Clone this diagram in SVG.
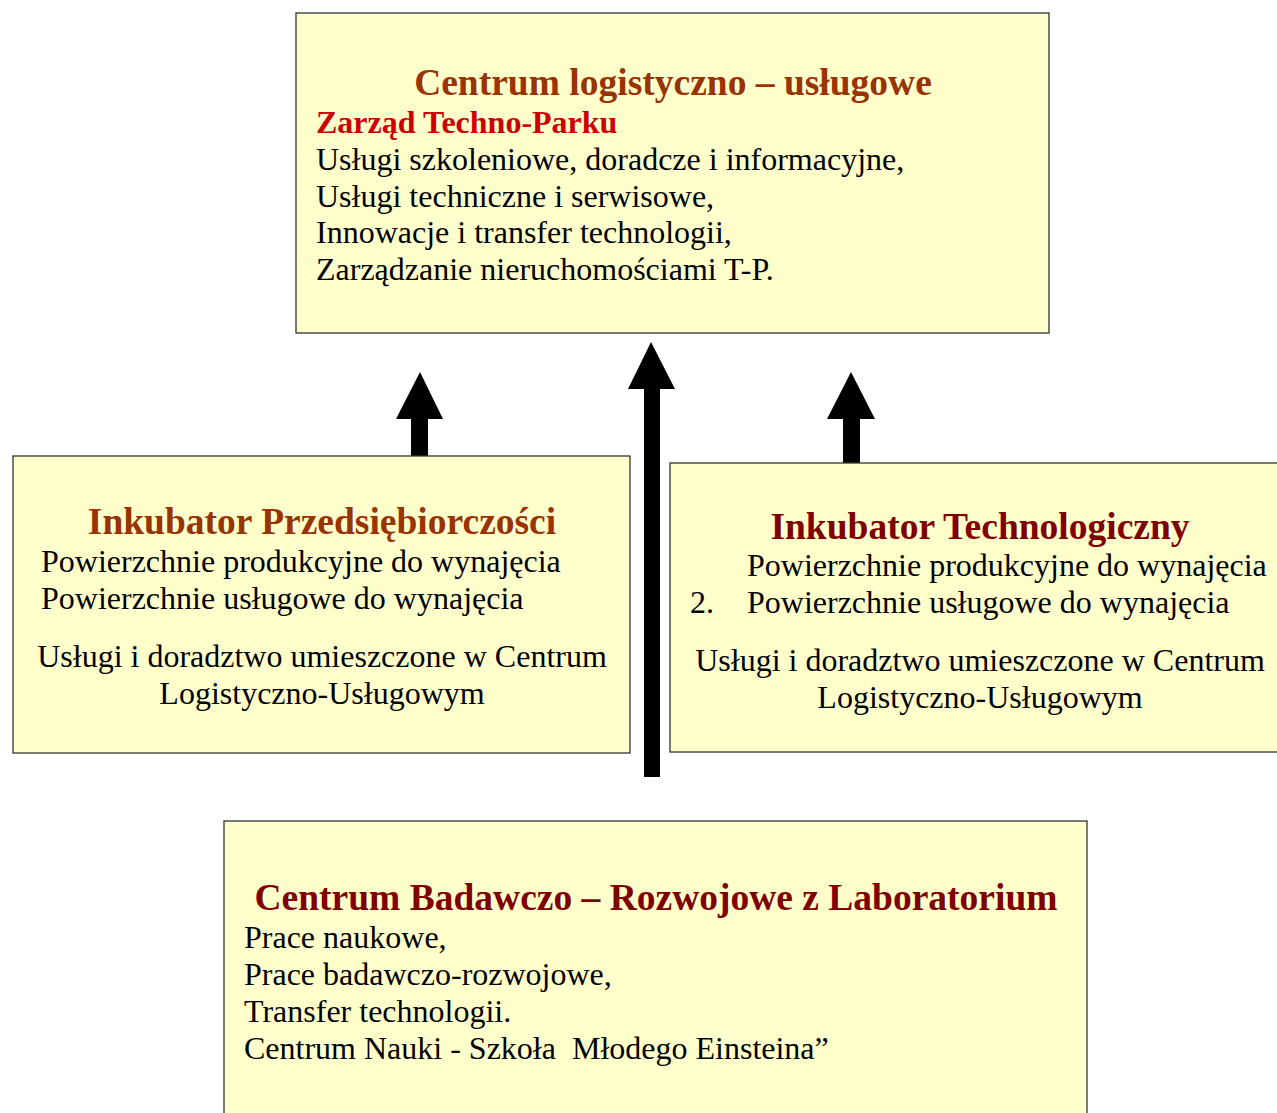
<svg xmlns="http://www.w3.org/2000/svg" width="1277" height="1113" viewBox="0 0 1277 1113">
<style>
.box{fill:#FFFFCC;stroke:#333333;stroke-width:1.3}
text{font-family:"Liberation Serif","Times New Roman",serif;font-size:32px;fill:#000}
.t{font-weight:bold;font-size:37.5px}
.brown{fill:#993300}
.dred{fill:#800000}
.red{fill:#CC0000;font-weight:bold;font-size:32px}
.c{text-anchor:middle}
.arrow{fill:#000}
</style>
<rect width="1277" height="1113" fill="#fff"/>
<g id="connectors">
<polygon class="arrow" points="420,372 443,419 428,419 428,456 411,456 411,419 396,419"/>
<polygon class="arrow" points="651,342 675,389 660,389 660,777 644,777 644,389 628,389"/>
<polygon class="arrow" points="851,372 875,419 860,419 860,463 843,463 843,419 827,419"/>
</g>
<g id="centrum-logistyczno">
<rect class="box" x="296" y="13" width="753" height="320"/>
<text class="t brown c" x="673" y="95">Centrum logistyczno – usługowe</text>
<text class="red" x="316" y="133">Zarząd Techno-Parku</text>
<text x="316" y="170">Usługi szkoleniowe, doradcze i informacyjne,</text>
<text x="316" y="207">Usługi techniczne i serwisowe,</text>
<text x="316" y="243">Innowacje i transfer technologii,</text>
<text x="316" y="280">Zarządzanie nieruchomościami T-P.</text>
</g>
<g id="inkubator-przedsiebiorczosci">
<rect class="box" x="13" y="456" width="617" height="297"/>
<text class="t brown c" x="322" y="534">Inkubator Przedsiębiorczości</text>
<text x="41" y="572">Powierzchnie produkcyjne do wynajęcia</text>
<text x="41" y="609">Powierzchnie usługowe do wynajęcia</text>
<text class="c" x="322" y="667">Usługi i doradztwo umieszczone w Centrum</text>
<text class="c" x="322" y="704">Logistyczno-Usługowym</text>
</g>
<g id="inkubator-technologiczny">
<rect class="box" x="670" y="463" width="612" height="289"/>
<text class="t dred c" x="980" y="539">Inkubator Technologiczny</text>
<text x="747" y="576">Powierzchnie produkcyjne do wynajęcia</text>
<text x="690" y="613">2.</text>
<text x="747" y="613">Powierzchnie usługowe do wynajęcia</text>
<text class="c" x="980" y="671">Usługi i doradztwo umieszczone w Centrum</text>
<text class="c" x="980" y="708">Logistyczno-Usługowym</text>
</g>
<g id="centrum-badawczo-rozwojowe">
<rect class="box" x="224" y="821" width="863" height="300"/>
<text class="t dred c" x="656" y="910">Centrum Badawczo – Rozwojowe z Laboratorium</text>
<text x="244" y="948">Prace naukowe,</text>
<text x="244" y="985">Prace badawczo-rozwojowe,</text>
<text x="244" y="1022">Transfer technologii.</text>
<text x="244" y="1059" xml:space="preserve">Centrum Nauki - Szkoła  Młodego Einsteina”</text>
</g>
</svg>
